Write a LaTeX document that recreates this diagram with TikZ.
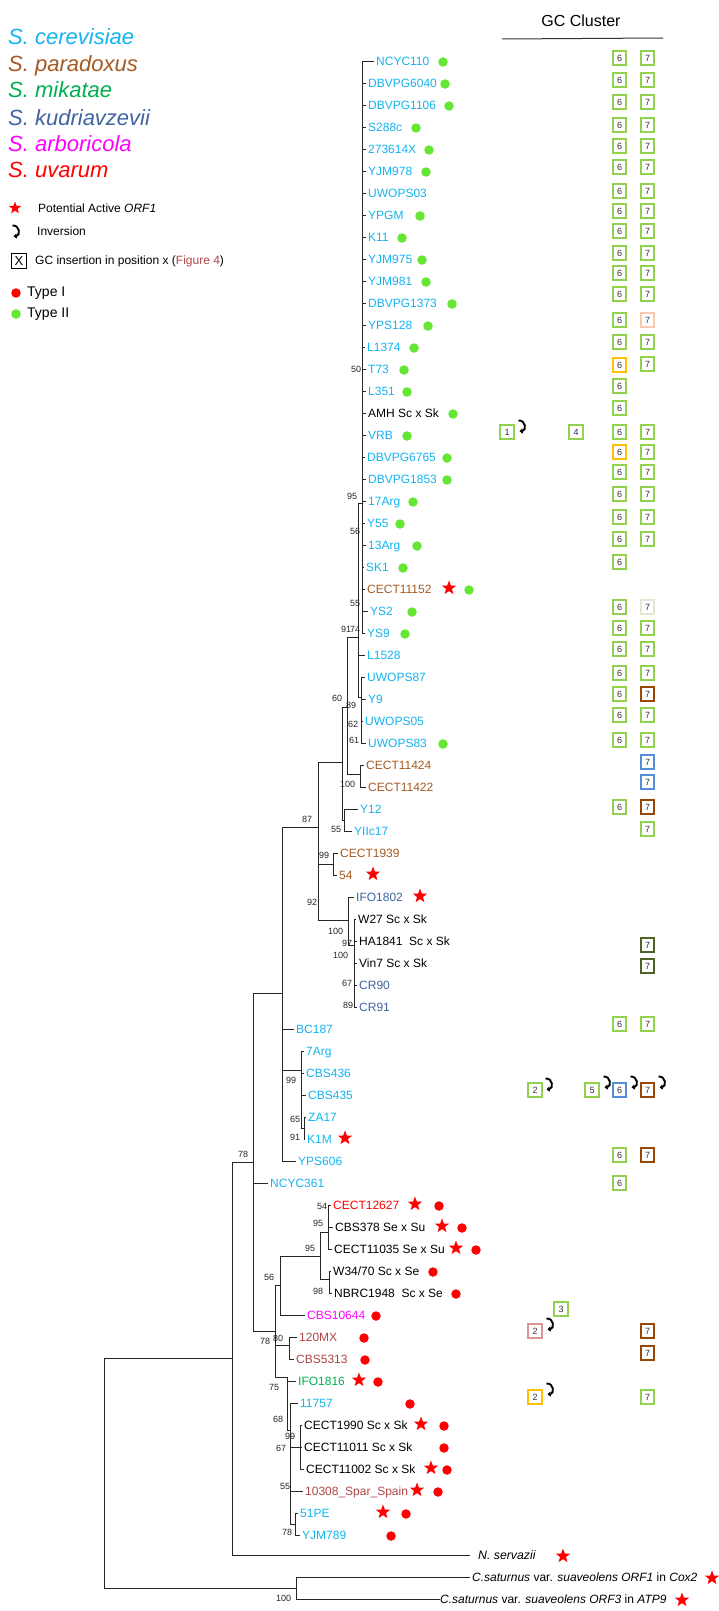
\documentclass[tikz,border=0pt]{standalone}
\usepackage{fontspec}
\setmainfont{Liberation Sans}
\usetikzlibrary{shapes.geometric,arrows.meta}
\definecolor{cer}{RGB}{20,180,240}
\definecolor{par}{RGB}{165,90,35}
\definecolor{mik}{RGB}{0,176,80}
\definecolor{kud}{RGB}{65,100,160}
\definecolor{arb}{RGB}{255,0,255}
\definecolor{uva}{RGB}{255,0,0}
\definecolor{dus}{RGB}{175,70,70}
\definecolor{gdotc}{RGB}{100,230,50}
\definecolor{gcg}{RGB}{146,208,80}
\definecolor{gco}{RGB}{255,192,0}
\definecolor{gcpeach}{RGB}{248,203,173}
\definecolor{gclight}{RGB}{228,230,212}
\definecolor{gcbrown}{RGB}{152,72,6}
\definecolor{gcblue}{RGB}{85,142,213}
\definecolor{gcolive}{RGB}{79,98,40}
\definecolor{gcpink}{RGB}{217,150,148}
\newcommand\invhook[2]{\begin{scope}[shift={(#1,#2)}]\draw[line width=1.9pt,-{Triangle[length=3.2pt,width=5pt]}] (-2.5,-6.5) .. controls (5,-7) and (5.5,3.5) .. (-1.5,4.5);\end{scope}}
\tikzset{
 lab/.style={anchor=base west, inner sep=0pt, font=\fontsize{12}{14}\selectfont},
 supl/.style={anchor=west, inner sep=0pt, font=\fontsize{9}{10}\selectfont, text=black!85},
 br/.style={line width=0.9pt, draw=black!85},
 gdot/.style={circle, fill=gdotc, inner sep=0pt, minimum size=9.5pt},
 rdot/.style={circle, fill=red, inner sep=0pt, minimum size=9.5pt},
 rstar/.style={star, star points=5, star point ratio=2.4, fill=red, inner sep=0pt, minimum size=15pt},
 gcb/.style={draw=#1, line width=2.1pt, fill=white, minimum size=13.6pt, inner sep=0pt, font=\fontsize{9}{10}\selectfont, text=black!80},
 legsp/.style={anchor=base west, inner sep=0pt, font=\fontsize{22}{24}\selectfont\itshape},
 legtx/.style={anchor=west, inner sep=0pt, font=\fontsize{12}{14}\selectfont},
}
\begin{document}
\begin{tikzpicture}[x=1pt,y=-1pt]
\fill[white] (0,0) rectangle (718,1611);
\useasboundingbox (0,0) rectangle (718,1611);

% ---------- legend ----------
\node[legsp,text=cer] (sp1) at (8,45) {S. cerevisiae};
\node[legsp,text=par] (sp2) at (8,71) {S. paradoxus};
\node[legsp,text=mik] (sp3) at (8,97) {S. mikatae};
\node[legsp,text=kud] (sp4) at (8,125) {S. kudriavzevii};
\node[legsp,text=arb] (sp5) at (8,151) {S. arboricola};
\node[legsp,text=uva] (sp6) at (8,177) {S. uvarum};
\node[rstar,minimum size=13pt] (lgstar) at (15,208) {};
\node[legtx] (lgstart) at (38,208) {Potential Active \textit{ORF1}};
\invhook{15}{232}
\node[legtx] (lginvt) at (37,231) {Inversion};
\node[draw=black,line width=1.8pt,minimum size=15pt,inner sep=0pt,font=\fontsize{13}{14}\selectfont] (lgbox) at (19,261) {X};
\node[legtx] (lgboxt) at (35,261) {GC insertion in position x (\textcolor{dus}{Figure 4})};
\node[rdot] (lgd1) at (16,293) {};
\node[legtx,font=\fontsize{14}{16}\selectfont] (lgd1t) at (27,293) {Type I};
\node[gdot] (lgd2) at (16,314) {};
\node[legtx,font=\fontsize{14}{16}\selectfont] (lgd2t) at (27,314) {Type II};

% ---------- GC cluster header ----------
\node[font=\fontsize{16}{18}\selectfont] (gct) at (581,21) {GC Cluster};
\coordinate (gcl1) at (502,39);
\coordinate (gcl2) at (663,38);
\draw[line width=1pt,black!80] (gcl1) -- (gcl2);

% ---------- leaves ----------
\foreach \i/\x/\c/\t in {
0/376/cer/NCYC110, 1/368/cer/DBVPG6040, 2/368/cer/DBVPG1106, 3/368/cer/S288c,
4/368/cer/273614X, 5/368/cer/YJM978, 6/368/cer/UWOPS03, 7/368/cer/YPGM,
8/368/cer/K11, 9/368/cer/YJM975, 10/368/cer/YJM981, 11/368/cer/DBVPG1373,
12/368/cer/YPS128, 13/367/cer/L1374, 14/368/cer/T73, 15/368/cer/L351,
16/368/black/{AMH Sc x Sk}, 17/368/cer/VRB, 18/367/cer/DBVPG6765, 19/368/cer/DBVPG1853,
20/368/cer/17Arg, 21/367/cer/Y55, 22/368/cer/13Arg, 23/366/cer/SK1,
24/367/par/CECT11152, 25/370/cer/YS2, 26/367/cer/YS9, 27/367/cer/L1528,
28/367/cer/UWOPS87, 29/368/cer/Y9, 30/365/cer/UWOPS05, 31/368/cer/UWOPS83,
32/366/par/CECT11424, 33/368/par/CECT11422, 34/360/cer/Y12, 35/354/cer/YIIc17,
36/340/par/CECT1939, 37/339/par/54, 38/356/kud/IFO1802, 39/358/black/{W27 Sc x Sk},
40/359/black/{HA1841\ \ Sc x Sk}, 41/359/black/{Vin7 Sc x Sk}, 42/359/kud/CR90, 43/359/kud/CR91,
44/296/cer/BC187, 45/306/cer/7Arg, 46/306/cer/CBS436, 47/308/cer/CBS435,
48/308/cer/ZA17, 49/307/cer/K1M, 50/298/cer/YPS606, 51/270/cer/NCYC361,
52/333/uva/CECT12627, 53/335/black/{CBS378 Se x Su}, 54/334/black/{CECT11035 Se x Su}, 55/333/black/{W34/70 Sc x Se},
56/334/black/{NBRC1948\ \ Sc x Se}, 57/307/arb/CBS10644, 58/299/dus/120MX, 59/296/dus/CBS5313,
60/298/mik/IFO1816, 61/300/cer/11757, 62/304/black/{CECT1990 Sc x Sk}, 63/304/black/{CECT11011 Sc x Sk},
64/306/black/{CECT11002 Sc x Sk}, 65/305/dus/{10308\_Spar\_Spain}, 66/300/cer/51PE, 67/302/cer/YJM789}
{
 \node[lab,text=\c] (L\i) at (\x,{61+22*\i+4.3}) {\t};
 \coordinate (t\i) at ({\x-2},{61+22*\i});
}
\node[lab,font=\fontsize{12.3}{14}\selectfont\itshape] (L68) at (478,1559.3) {N. servazii};
\coordinate (t68) at (470,1555);
\node[lab] (L69) at (472,1581.3) {\textit{C.saturnus} var. \textit{suaveolens ORF1} in \textit{Cox2}};
\coordinate (t69) at (470,1577);
\node[lab] (L70) at (440,1603.3) {\textit{C.saturnus} var. \textit{suaveolens ORF3} in \textit{ATP9}};
\coordinate (t70) at (440,1599);

% ---------- internal nodes ----------
\coordinate (root) at (104,1470);
\coordinate (nA) at (232,1358);
\coordinate (nB) at (253,1162);
\coordinate (nC) at (296,1588);
\coordinate (nD) at (282,993);
\coordinate (nE) at (275,1331);
\coordinate (nF) at (318,827);
\coordinate (nG) at (301,1070);
\coordinate (nG2) at (304,1128);
\coordinate (nH) at (342,762);
\coordinate (nI) at (333,864);
\coordinate (nJ) at (348,920);
\coordinate (nK) at (354,945);
\coordinate (nL) at (347,707);
\coordinate (nM) at (344,820);
\coordinate (nN) at (358,637);
\coordinate (nO) at (360,774);
\coordinate (nP) at (362,503);
\coordinate (nQ) at (361,697);
\coordinate (nR) at (280,1285);
\coordinate (nS) at (289,1345);
\coordinate (nT) at (287,1377);
\coordinate (nU) at (320,1256);
\coordinate (nV) at (328,1232);
\coordinate (nW) at (329,1279);
\coordinate (nX) at (290,1430);
\coordinate (nY) at (300,1447);
\coordinate (nZ) at (295,1524);

% ---------- branches ----------
\foreach \p/\c in {root/nA, root/nC, nC/t69, nC/t70, nA/nB, nA/t68,
 nB/nD, nB/t51, nB/nE, nD/nF, nD/t44, nD/nG, nD/t50,
 nG/t45, nG/t46, nG/t47, nG/nG2, nG2/t48, nG2/t49,
 nF/nH, nF/nI, nF/nJ, nI/t36, nI/t37, nJ/t38, nJ/nK,
 nK/t39, nK/t40, nK/t41, nK/t42, nK/t43,
 nH/nL, nH/nM, nM/t34, nM/t35, nL/nN, nL/nO, nO/t32, nO/t33,
 nN/nP, nN/t27, nN/nQ, nQ/t28, nQ/t29, nQ/t30, nQ/t31,
 nE/nR, nE/nS, nE/nT, nR/nU, nR/t57, nU/nV, nU/nW,
 nV/t52, nV/t53, nV/t54, nW/t55, nW/t56, nS/t58, nS/t59,
 nT/t60, nT/nX, nX/t61, nX/nY, nX/t65, nX/nZ,
 nY/t62, nY/t63, nY/t64, nZ/t66, nZ/t67}
 \draw[br] (\p) |- (\c);
\foreach \k in {0,...,26} \draw[br] (nP) |- (t\k);

% ---------- support values ----------
\foreach \x/\y/\t in {351/369/50, 347/496/95, 350/531/56, 350/603/55, 341/629/91, 350/629/74,
 332/698/60, 346/705/89, 348/724/62, 349/740/61, 340/784/100, 302/819/87, 331/829/55,
 319/855/99, 307/902/92, 328/931/100, 342/943/97, 333/955/100, 342/983/67, 343/1005/89,
 286/1080/99, 290/1119/65, 290/1137/91, 238/1154/78, 317/1206/54, 313/1223/95, 305/1248/95,
 264/1277/56, 313/1291/98, 260/1341/78, 273/1338/80, 269/1387/75, 273/1419/68, 285/1436/99,
 276/1448/67, 280/1486/55, 282/1532/78, 276/1598/100}
 \node[supl] (s\x-\y) at (\x,\y) {\t};

% ---------- markers ----------
\foreach \x/\i in {443/0, 445/1, 449/2, 416/3, 429/4, 426/5, 420/7, 402/8, 422/9, 426/10,
 452/11, 428/12, 414/13, 404/14, 407/15, 453/16, 407/17, 447/18, 447/19, 413/20, 400/21,
 417/22, 403/23, 469/24, 412/25, 405/26, 443/31}
 \node[gdot] (gd\i) at (\x,{62+22*\i}) {};
\foreach \x/\i in {439/52, 462/53, 476/54, 433/55, 456/56, 376/57, 364/58, 365/59, 378/60,
 410/61, 444/62, 444/63, 447/64, 438/65, 406/66, 391/67}
 \node[rdot] (rd\i) at (\x,{62+22*\i}) {};
\foreach \x/\i in {449/24, 373/37, 420/38, 345/49, 415/52, 442/53, 456/54, 359/60, 421/62,
 431/64, 417/65, 383/66, 563/68, 712/69, 682/70}
 \node[rstar] (st\i) at (\x,{60+22*\i}) {};

% ---------- GC cluster boxes ----------
\foreach \y in {58,80,102,125,146,167,191,211,231,253,273,294,320,342,386,408,432,472,494,517,539,562,607,628,649,673,694,715,740,807,1024,1155,1183}
 \node[gcb=gcg] (gsix\y) at (619.5,\y) {6};
\foreach \y in {365,452}
 \node[gcb=gco] (gsix\y) at (619.5,\y) {6};
\node[gcb=gcblue] (gsix1090) at (619.5,1090) {6};
\foreach \y in {58,80,102,125,146,167,191,211,231,253,273,294,342,364,432,452,472,494,517,539,628,649,673,715,740,829,1024,1397}
 \node[gcb=gcg] (gsev\y) at (647.5,\y) {7};
\node[gcb=gcpeach] (gsev320) at (647.5,320) {7};
\node[gcb=gclight] (gsev607) at (647.5,607) {7};
\foreach \y in {694,807,1090,1155,1331,1353}
 \node[gcb=gcbrown] (gsev\y) at (647.5,\y) {7};
\foreach \y in {762,782}
 \node[gcb=gcblue] (gsev\y) at (647.5,\y) {7};
\foreach \y in {945,966}
 \node[gcb=gcolive] (gsev\y) at (647.5,\y) {7};
\node[gcb=gcg] (gone) at (507,432) {1};
\node[gcb=gcg] (gfour) at (576,432) {4};
\node[gcb=gcg] (gtwoa) at (535,1090) {2};
\node[gcb=gcg] (gfive) at (592,1090) {5};
\node[gcb=gcg] (gthree) at (561,1309) {3};
\node[gcb=gcpink] (gtwob) at (535,1331) {2};
\node[gcb=gco] (gtwoc) at (535,1397) {2};
\invhook{521}{427}
\invhook{548}{1085}
\invhook{606}{1083}
\invhook{633}{1083}
\invhook{661}{1083}
\invhook{549}{1325}
\invhook{549}{1390}
\end{tikzpicture}
\end{document}
